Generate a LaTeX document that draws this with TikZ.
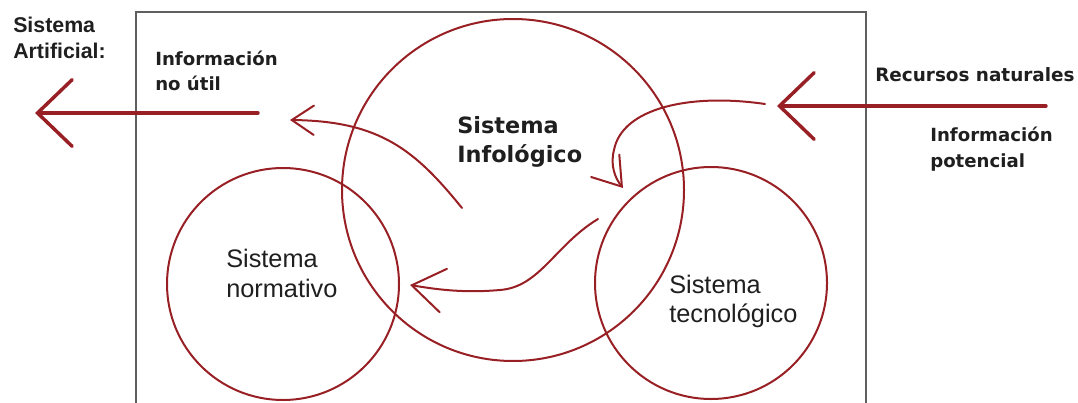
\documentclass[tikz,border=0pt]{standalone}
\usepackage{fontspec}
\setmainfont{Liberation Sans}
\newfontfamily\dvb{DejaVu Sans}[BoldFont={DejaVu Sans Bold}]
\usetikzlibrary{arrows.meta}
\definecolor{sysred}{RGB}{152,32,36}
\definecolor{boxgray}{RGB}{95,95,95}
\tikzset{
  syscircle/.style={circle, draw=sysred, line width=1.5pt, inner sep=0pt},
  flow/.style={draw=sysred, line width=1.5pt, line cap=round},
  bigflow/.style={draw=sysred, line width=2.6pt, line cap=round,
    -{Straight Barb[length=26pt,width=50pt,line cap=round]}},
  lab/.style={anchor=base west, inner sep=0pt, text=black!88},
}
\begin{document}
\begin{tikzpicture}[x=0.75pt,y=-0.75pt]
\useasboundingbox (0,0) rectangle (1078,403);
% frame of the artificial system
\coordinate (fbl) at (136,405);
\coordinate (ftl) at (136,12);
\coordinate (ftr) at (866,12);
\coordinate (fbr) at (866,405);
\draw[boxgray, line width=1.6pt] (fbl) -- (ftl) -- (ftr) -- (fbr);

% circles
\node[syscircle, minimum size=256.5pt] (info) at (513,190) {};
\node[syscircle, minimum size=174pt] (norm) at (283,284) {};
\node[syscircle, minimum size=174pt] (tecn) at (711,283) {};

% labels
\node[lab, font=\bfseries\fontsize{16}{19}\selectfont] (art1) at (13,33) {Sistema};
\node[lab, font=\bfseries\fontsize{16}{19}\selectfont] (art2) at (13,59) {Artificial:};
\node[lab, font=\dvb\bfseries\fontsize{13.6}{18}\selectfont] (nu1) at (155,65) {Información};
\node[lab, font=\dvb\bfseries\fontsize{13.6}{18}\selectfont] (nu2) at (155,90) {no útil};
\node[lab, font=\dvb\bfseries\fontsize{16.8}{21}\selectfont] (inf1) at (457,133) {Sistema};
\node[lab, font=\dvb\bfseries\fontsize{16.8}{21}\selectfont] (inf2) at (457,162) {Infológico};
\node[lab, font=\dvb\bfseries\fontsize{13.8}{18}\selectfont] (rec) at (875,82) {Recursos naturales};
\node[lab, font=\dvb\bfseries\fontsize{13.6}{18}\selectfont] (ip1) at (930,142) {Información};
\node[lab, font=\dvb\bfseries\fontsize{13.6}{18}\selectfont] (ip2) at (930,167) {potencial};
\node[lab, font=\fontsize{19}{22}\selectfont] (nm1) at (226,267) {Sistema};
\node[lab, font=\fontsize{19}{22}\selectfont] (nm2) at (226,297) {normativo};
\node[lab, font=\fontsize{19}{22}\selectfont] (tc1) at (669,293) {Sistema};
\node[lab, font=\fontsize{19}{22}\selectfont] (tc2) at (669,322) {tecnológico};

% big input / output arrows
\coordinate (outS) at (258,113);
\coordinate (outE) at (35,113);
\draw[bigflow] (outS) -- (outE);
\coordinate (inS) at (1046,106);
\coordinate (inE) at (777,106);
\draw[bigflow] (inS) -- (inE);

% information not useful
\coordinate (nuS) at (462,208);
\coordinate (nuE) at (290,120);
\draw[flow, -{Straight Barb[length=16.5pt,width=22pt,line cap=round]}]
  (nuS) .. controls (415,150) and (380,121) .. (nuE);

% natural resources loop into infological system
\coordinate (rlS) at (765,104);
\coordinate (rlM) at (614,150);
\coordinate (rlE) at (623,188);
\draw[flow, -{Straight Barb[length=20pt,width=27pt,line cap=round]}]
  (rlS) .. controls (690,93) and (622,108) .. (rlM)
        .. controls (610,165) and (615,178) .. (rlE);

% flow to the normative system
\coordinate (nmS) at (598,219);
\coordinate (nmM) at (500,290);
\coordinate (nmE) at (410,285);
\draw[flow, -{Straight Barb[length=24pt,width=33pt,line cap=round]}]
  (nmS) .. controls (555,245) and (540,287) .. (nmM)
        .. controls (465,293) and (440,290) .. (nmE);
\end{tikzpicture}
\end{document}
